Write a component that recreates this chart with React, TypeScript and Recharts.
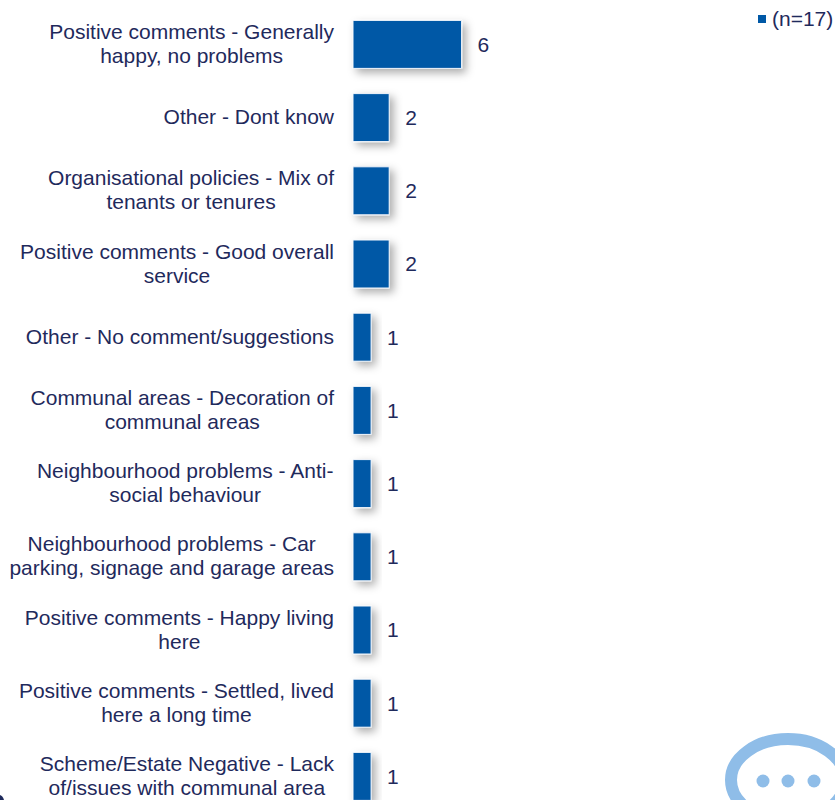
import React from "react";
import { BarChart, Bar, XAxis, YAxis, LabelList, Legend } from "recharts";

const categories: string[][] = [
  ["Positive comments - Generally", "happy, no problems"],
  ["Other - Dont know"],
  ["Organisational policies - Mix of", "tenants or tenures"],
  ["Positive comments - Good overall", "service"],
  ["Other - No comment/suggestions"],
  ["Communal areas - Decoration of", "communal areas"],
  ["Neighbourhood problems - Anti-", "social behaviour"],
  ["Neighbourhood problems - Car", "parking, signage and garage areas"],
  ["Positive comments - Happy living", "here"],
  ["Positive comments - Settled, lived", "here a long time"],
  ["Scheme/Estate Negative - Lack", "of/issues with communal area"],
];
const values: number[] = [6, 2, 2, 2, 1, 1, 1, 1, 1, 1, 1];
const seriesName = "(n=17)";

const data = categories.map((lines, i) => ({ name: lines.join("|"), value: values[i] }));

const FONT = "'Liberation Sans', Arial, sans-serif";
const TEXT = "#1f2a5c";
const BLUE = "#0058a6";

const ctx = document.createElement("canvas").getContext("2d")!;
ctx.font = `21px ${FONT}`;

const CategoryTick = (props: any) => {
  const { x, y, payload } = props;
  const lines: string[] = String(payload.value).split("|");
  const maxW = Math.max(...lines.map((l) => ctx.measureText(l).width));
  const right = x - 11;
  const cx = right - maxW / 2;
  return (
    <text x={cx} y={y} textAnchor="middle" fontFamily={FONT} fontSize={21} fill={TEXT}>
      {lines.map((l, i) => (
        <tspan key={i} x={cx} y={y + (i - (lines.length - 1) / 2) * 24 + 7}>
          {l}
        </tspan>
      ))}
    </text>
  );
};

const LegendBox = ({ payload }: any) => (
  <div style={{ position: "absolute", left: 758, top: 7, display: "flex", alignItems: "center", height: 24 }}>
    <span style={{ width: 8, height: 8, background: BLUE, display: "inline-block", marginRight: 6 }} />
    <span style={{ fontFamily: FONT, fontSize: 21, color: TEXT }}>{payload?.[0]?.value}</span>
  </div>
);

export default function App() {
  return (
    <div style={{ position: "absolute", left: 0, top: 0, width: 835, height: 800, overflow: "hidden", background: "#fff" }}>
      <BarChart
        width={835}
        height={820}
        data={data}
        layout="vertical"
        margin={{ top: 7.4, right: 301, bottom: 7.4, left: 0 }}
      >
        <defs>
          <filter id="barShadow" x="-40%" y="-40%" width="200%" height="200%">
            <feDropShadow dx="4" dy="4" stdDeviation="4" floodColor="#000" floodOpacity="0.32" />
          </filter>
        </defs>
        <XAxis type="number" domain={[0, 10]} hide />
        <YAxis
          type="category"
          dataKey="name"
          width={353}
          axisLine={false}
          tickLine={false}
          interval={0}
          tick={<CategoryTick />}
        />
        <Legend content={<LegendBox />} wrapperStyle={{ position: "absolute", left: 0, top: 0, width: 0, height: 0 }} />
        <Bar
          dataKey="value"
          name={seriesName}
          fill={BLUE}
          stroke="#f2f6fb"
          strokeWidth={1}
          barSize={48}
          filter="url(#barShadow)"
          isAnimationActive={false}
        >
          <LabelList dataKey="value" position="right" offset={16} fontFamily={FONT} fontSize={21} fill={TEXT} />
        </Bar>
      </BarChart>
      <svg width={835} height={800} style={{ position: "absolute", left: 0, top: 0, pointerEvents: "none" }}>
        <ellipse cx={788} cy={780} rx={57} ry={41} fill="none" stroke="#8fbde8" strokeWidth={12} />
        <circle cx={763} cy={781} r={6.5} fill="#8fbde8" />
        <circle cx={788} cy={781} r={6.5} fill="#8fbde8" />
        <circle cx={814} cy={781} r={6.5} fill="#8fbde8" />
        <path d="M0 800 L0 795 Q3 796 4 800 Z" fill="#1f2a5c" />
      </svg>
    </div>
  );
}
